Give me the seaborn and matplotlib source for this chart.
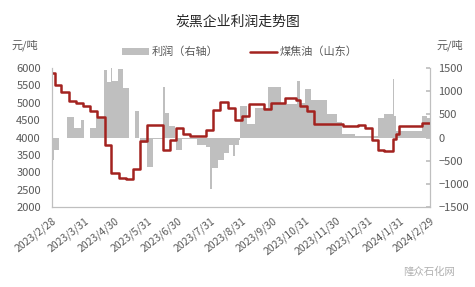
import matplotlib
matplotlib.use('Agg')
import matplotlib.pyplot as plt
from matplotlib.patches import Patch
from matplotlib.lines import Line2D
import seaborn as sns
import pandas as pd

# 煤焦油（山东） price, left axis (元/吨) - change points (step data)
line_dates = ["2023-02-28", "2023-03-03", "2023-03-09", "2023-03-16", "2023-03-23", "2023-03-30",
              "2023-04-06", "2023-04-13", "2023-04-20", "2023-04-26", "2023-05-04", "2023-05-11",
              "2023-05-17", "2023-05-24", "2023-05-31", "2023-06-15", "2023-06-22", "2023-06-28",
              "2023-07-05", "2023-07-12", "2023-07-27", "2023-08-03", "2023-08-10", "2023-08-17",
              "2023-08-24", "2023-08-31", "2023-09-07", "2023-09-21", "2023-09-28", "2023-10-12",
              "2023-10-22", "2023-10-26", "2023-11-02", "2023-11-09", "2023-12-07", "2023-12-21",
              "2023-12-28", "2024-01-04", "2024-01-10", "2024-01-15", "2024-01-24", "2024-01-27",
              "2024-01-30", "2024-02-21", "2024-02-29"]
line_values = [5850, 5500, 5300, 5050, 5000, 4910,
               4750, 4600, 3780, 2990, 2840, 2800,
               3100, 3900, 4365, 3645, 3930, 4260,
               4090, 4050, 4220, 4800, 5010, 4840,
               4510, 4617, 4977, 4812, 5005, 5150,
               5080, 4907, 4763, 4380, 4340, 4370,
               4280, 3940, 3650, 3600, 3950, 4110,
               4330, 4425, 4425]

# 利润（右轴） - change points (step data)
profit_dates = ["2023-02-28", "2023-03-02", "2023-03-07", "2023-03-15", "2023-03-21", "2023-03-28",
                "2023-03-31", "2023-04-06", "2023-04-12", "2023-04-19", "2023-04-22", "2023-04-26",
                "2023-04-27", "2023-05-03", "2023-05-08", "2023-05-14", "2023-05-19", "2023-05-23",
                "2023-05-24", "2023-05-31", "2023-06-06", "2023-06-15", "2023-06-17", "2023-06-21",
                "2023-06-27", "2023-06-28", "2023-07-04", "2023-07-18", "2023-07-27", "2023-07-31",
                "2023-08-02", "2023-08-08", "2023-08-14", "2023-08-18", "2023-08-22", "2023-08-24",
                "2023-08-28", "2023-08-29", "2023-09-05", "2023-09-13", "2023-09-25", "2023-10-08",
                "2023-10-13", "2023-10-23", "2023-10-26", "2023-10-31", "2023-11-06", "2023-11-21",
                "2023-12-01", "2023-12-06", "2023-12-18", "2024-01-10", "2024-01-15", "2024-01-24",
                "2024-01-25", "2024-01-27", "2024-02-21", "2024-02-26", "2024-02-29"]
profit_values = [-478, -260, 0, 449, 210, 377,
                 0, 210, 427, 1457, 1189, 1515,
                 1225, 1478, 1058, 0, 572, 0,
                 -116, -638, -40, 1080, 520, 246,
                 0, -276, -43, -152, -203, -1110,
                 -650, -478, -333, -152, -400, -160,
                 -60, 680, 283, 645, 1080, 754,
                 717, 1210, 740, 1043, 800, 500,
                 330, 65, 25, 428, 514, 1260,
                 470, 138, 464, 430, 430]

tick_dates = ["2023-02-28", "2023-03-31", "2023-04-30", "2023-05-31", "2023-06-30", "2023-07-31",
              "2023-08-31", "2023-09-30", "2023-10-31", "2023-11-30", "2023-12-31", "2024-01-31",
              "2024-02-29"]
tick_labels = ["2023/2/28", "2023/3/31", "2023/4/30", "2023/5/31", "2023/6/30", "2023/7/31",
               "2023/8/31", "2023/9/30", "2023/10/31", "2023/11/30", "2023/12/31", "2024/1/31",
               "2024/2/29"]

title = "炭黑企业利润走势图"
unit = "元/吨"
profit_name = "利润（右轴）"
line_name = "煤焦油（山东）"

sns.set_theme(style='white')
plt.rcParams['font.family'] = ['Noto Sans CJK SC', 'DejaVu Sans']

TXT = '#595959'
GRID = '#BFBFBF'
RED = '#A3221F'
BAR = '#BFBFBF'

fig = plt.figure(figsize=(4.75, 2.87), dpi=100)
ax = fig.add_axes([52 / 475, 1 - 207 / 287, 378 / 475, 139 / 287])
ax2 = ax.twinx()

pdates = pd.to_datetime(profit_dates)
ax2.fill_between(pdates, profit_values, 0, step='post', color=BAR, lw=0)

df = pd.DataFrame({'date': pd.to_datetime(line_dates), 'price': line_values})
sns.lineplot(data=df, x='date', y='price', ax=ax, drawstyle='steps-post',
             color=RED, lw=1.8, legend=False)

ax.set_zorder(ax2.get_zorder() + 1)
ax.patch.set_visible(False)

ax.set_xlim(pd.Timestamp(tick_dates[0]), pd.Timestamp(tick_dates[-1]))
ax.set_ylim(2000, 6000)
ax.set_yticks(range(2000, 6001, 500))
ax2.set_ylim(-1500, 1500)
ax2.set_yticks(range(-1500, 1501, 500))
ax.set_xticks(pd.to_datetime(tick_dates))
ax.set_xticklabels(tick_labels, rotation=38, ha='right', rotation_mode='anchor')
ax.set_xlabel('')
ax.set_ylabel('')

for a in (ax, ax2):
    for s in a.spines.values():
        s.set_color(GRID)
        s.set_linewidth(0.8)
    a.spines['top'].set_visible(False)
ax.tick_params(axis='x', direction='in', length=3, color=GRID, labelsize=7.5,
               labelcolor=TXT, pad=6)
ax.tick_params(axis='y', length=0, labelsize=8, labelcolor=TXT, pad=8)
ax2.tick_params(axis='y', direction='in', length=3, color=GRID, labelsize=8,
                labelcolor=TXT, pad=6)

fig.text(0.5, 1 - 22 / 287, title, ha='center', va='center', fontsize=10, color='#262626')
fig.text(12 / 475, 1 - 45 / 287, unit, ha='left', va='center', fontsize=8, color=TXT)
fig.text(463 / 475, 1 - 45 / 287, unit, ha='right', va='center', fontsize=8, color=TXT)

handles = [Patch(facecolor=BAR, edgecolor='none'), Line2D([0], [0], color=RED, lw=1.8)]
fig.legend(handles, [profit_name, line_name], loc='center',
           bbox_to_anchor=(240 / 475, 1 - 52 / 287), ncol=2, frameon=False,
           fontsize=8, handlelength=2.4, handleheight=0.5, columnspacing=2.8,
           handletextpad=0.3, labelcolor=TXT)

fig.text(455 / 475, 1 - 272 / 287, "隆众石化网", ha='right', va='center',
         fontsize=7.5, color='#B0B0B0')

fig.savefig('out.png', dpi=100)
